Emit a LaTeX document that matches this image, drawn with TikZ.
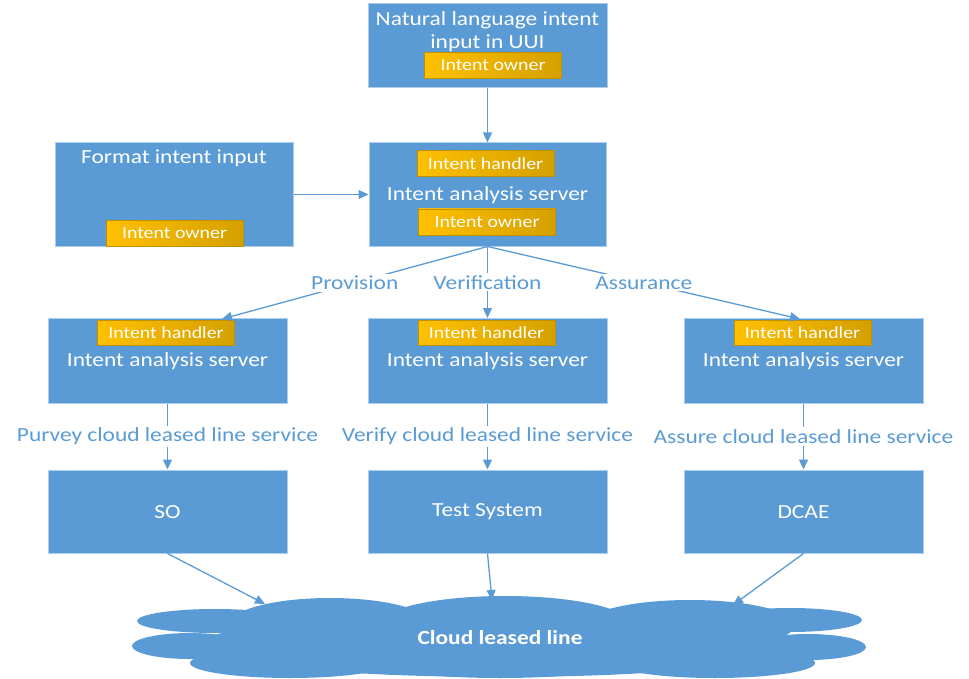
\documentclass[tikz,border=0pt]{standalone}
\usepackage{fontspec}
\setmainfont{Carlito}
\usetikzlibrary{arrows.meta}
\definecolor{boxblue}{HTML}{5B9BD5}
\definecolor{tagA}{HTML}{FFC000}
\definecolor{tagB}{HTML}{D5A000}
\definecolor{tagedge}{HTML}{BF9000}
\newcommand{\bigtxt}{\fontsize{20}{23}\selectfont}
\newcommand{\tagtxt}{\fontsize{17}{19}\selectfont}
\newcommand{\sx}[1]{\scalebox{1.17}[1]{#1}}
\tikzset{
  box/.style={rectangle, fill=boxblue, draw=boxblue!50!white, line width=1pt, inner sep=0pt},
  tag/.style={rectangle, left color=tagA, right color=tagB, draw=tagedge, line width=0.9pt,
    minimum width=137pt, minimum height=26pt, inner sep=0pt, text=white, font=\tagtxt},
  wtxt/.style={text=white, font=\bigtxt, inner sep=1pt},
  lbl/.style={text=boxblue, fill=white, font=\bigtxt, inner sep=2pt},
  conn/.style={draw=boxblue, line width=1.3pt, -{Triangle[length=10pt,width=9pt]}},
  cloudpart/.style={fill=boxblue, draw=none}
}
\begin{document}
\begin{tikzpicture}[x=1pt,y=-1pt]
\useasboundingbox (0,0) rectangle (969,679);
% top box
\node[box, minimum width=239pt, minimum height=84pt] (top) at (487.5,46) {};
\node[wtxt] (toptxta) at (487.5,20) {\sx{Natural language intent}};
\node[wtxt] (toptxtb) at (487.5,43) {\sx{input in UUI}};
\node[tag] (toptag) at (493,65.5) {\sx{Intent owner}};
% format box
\node[box, minimum width=238pt, minimum height=103pt] (fmt) at (174,194.5) {};
\node[wtxt] (fmttxt) at (174,158) {\sx{Format intent input}};
\node[tag] (fmttag) at (174.5,233.5) {\sx{Intent owner}};
% middle server
\node[box, minimum width=237pt, minimum height=103pt] (mid) at (487.5,194.5) {};
\node[tag] (midhandler) at (485.5,163.5) {\sx{Intent handler}};
\node[wtxt] (midtxt) at (487.5,195) {\sx{Intent analysis server}};
\node[tag] (midowner) at (487,222) {\sx{Intent owner}};
\draw[conn] (top.south) -- (mid.north);
\draw[conn] (fmt.east) -- (mid.west);
% lower servers
\foreach \n/\x/\tx in {la/167.5/166, lb/487.5/486.5, lc/803.5/802.5}{
  \node[box, minimum width=239pt, minimum height=85pt] (\n) at (\x,360.5) {};
  \node[tag, minimum height=25pt] (\n tag) at (\tx,332.5) {\sx{Intent handler}};
  \node[wtxt] (\n txt) at (\x,361) {\sx{Intent analysis server}};
}
\coordinate (pa) at (222,319);
\coordinate (pb) at (487.5,318);
\coordinate (pc) at (800,319);
\draw[conn] (mid.south) -- node[lbl] (provlbl) {\sx{Provision}} (pa);
\draw[conn] (mid.south) -- node[lbl] (verlbl) {\sx{Verification}} (pb);
\draw[conn] (mid.south) -- node[lbl] (asslbl) {\sx{Assurance}} (pc);
% bottom boxes
\node[box, minimum width=239pt, minimum height=83pt] (so) at (167.5,511.5) {};
\node[wtxt] (sotxt) at (167.5,512) {\sx{SO}};
\node[box, minimum width=239pt, minimum height=83pt] (tst) at (487.5,511.5) {};
\node[wtxt] (tsttxt) at (487.5,512) {\sx{Test System}};
\node[box, minimum width=239pt, minimum height=83pt] (dcae) at (803.5,511.5) {};
\node[wtxt] (dcaetxt) at (803.5,512) {\sx{DCAE}};
\draw[conn] (la.south) -- node[lbl] (purlbl) {\sx{Purvey cloud leased line service}} (so.north);
\draw[conn] (lb.south) -- node[lbl] (verilbl) {\sx{Verify cloud leased line service}} (tst.north);
\draw[conn] (lc.south) -- node[lbl] (asslbl2) {\sx{Assure cloud leased line service}} (dcae.north);
% cloud
\fill[cloudpart] (500,645) ellipse [x radius=300pt, y radius=32pt];
\fill[cloudpart] (330,624) ellipse [x radius=100pt, y radius=26pt];
\fill[cloudpart] (505,624) ellipse [x radius=125pt, y radius=28pt];
\fill[cloudpart] (690,625) ellipse [x radius=105pt, y radius=25pt];
\fill[cloudpart] (215,621) ellipse [x radius=78pt, y radius=12pt];
\fill[cloudpart] (190,646) ellipse [x radius=58pt, y radius=13pt];
\fill[cloudpart] (790,620) ellipse [x radius=72pt, y radius=12pt];
\fill[cloudpart] (808,647) ellipse [x radius=58pt, y radius=13pt];
\fill[cloudpart] (290,663) ellipse [x radius=100pt, y radius=15pt];
\fill[cloudpart] (500,664) ellipse [x radius=120pt, y radius=14pt];
\fill[cloudpart] (715,663) ellipse [x radius=100pt, y radius=15pt];
\node[text=white, font=\bigtxt\bfseries] (cloudtxt) at (500,638) {\sx{Cloud leased line}};
\coordinate (ca) at (265,604);
\coordinate (cb) at (492,600);
\coordinate (cc) at (733,605);
\draw[conn] (so.south) -- (ca);
\draw[conn] (tst.south) -- (cb);
\draw[conn] (dcae.south) -- (cc);
\end{tikzpicture}
\end{document}
